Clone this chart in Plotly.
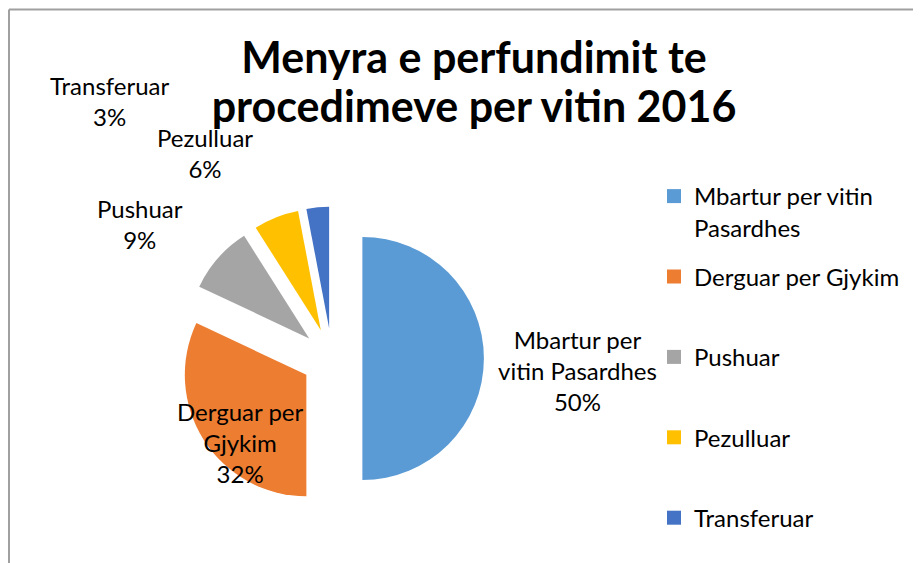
import plotly.graph_objects as go

# te dhenat
kategorite = ["Mbartur per vitin Pasardhes", "Derguar per Gjykim", "Pushuar", "Pezulluar", "Transferuar"]
perqindjet = [50, 32, 9, 6, 3]
tekst_feta = ["Mbartur per<br>vitin Pasardhes", "Derguar per<br>Gjykim", "Pushuar", "Pezulluar", "Transferuar"]
tekst_legjenda = ["Mbartur per vitin<br>Pasardhes", "Derguar per Gjykim<br>&nbsp;", "Pushuar<br>&nbsp;",
                  "Pezulluar<br>&nbsp;", "Transferuar"]
ngjyrat = ["#5B9BD5", "#ED7D31", "#A5A5A5", "#FFC000", "#4472C4"]

# vendet e etiketave si ne Excel (qendra e bllokut te tekstit, ne piksel te faqes)
vend_etiketash = {0: (577, 370), 1: (240, 442), 2: (140, 224), 3: (205, 153), 4: (110, 101)}

FONT = "Lato"
W, H = 921, 563
OFF = 8  # faqja html ka 8px margin ne body


def fx(px):
    return (px - OFF) / W


def fy(py):
    return 1 - (py - OFF) / H


fig = go.Figure()

# qendra e pites (pa shtyrje) rreth (332, 358.5), rrezja ~121.5, shtyrja 0.25
fig.add_trace(go.Pie(
    labels=kategorite,
    values=perqindjet,
    text=tekst_feta,
    textinfo="none",
    sort=False,
    direction="clockwise",
    rotation=0,
    pull=0.25,
    marker=dict(colors=ngjyrat, line=dict(width=0)),
    domain=dict(x=[fx(180.1), fx(483.9)], y=[fy(510.4), fy(206.6)]),
    showlegend=False,
    hovertemplate="%{label}<br>%{value}%<extra></extra>",
))

# legjenda me gjurme ndihmese qe hapesira te jete e barabarte
for i in range(len(kategorite)):
    fig.add_trace(go.Scatter(
        x=[None], y=[None],
        mode="markers",
        name=tekst_legjenda[i],
        legendgroup=str(i),
        marker=dict(symbol="square", size=14, color=ngjyrat[i]),
        showlegend=True,
    ))

shenime = []
for i, (px, py) in vend_etiketash.items():
    shenime.append(dict(
        text=tekst_feta[i] + "<br>" + str(perqindjet[i]) + "%",
        x=fx(px), y=fy(py), xref="paper", yref="paper",
        xanchor="center", yanchor="middle", showarrow=False,
        font=dict(family=FONT, size=24, color="black"),
    ))

titulli = ("<span style='font-size:43px'>Menyra e perfundimit te</span><br>"
           "<span style='font-size:43px'>procedimeve per vitin 2016</span>")

fig.update_layout(
    width=W,
    height=H,
    margin=dict(l=0, r=0, t=0, b=0, autoexpand=False),
    paper_bgcolor="white",
    plot_bgcolor="white",
    title=dict(
        text=titulli,
        x=fx(474), xanchor="center",
        y=fy(73), yanchor="top",
        font=dict(family=FONT, size=38, color="black", weight="bold"),
    ),
    xaxis=dict(visible=False),
    yaxis=dict(visible=False),
    legend=dict(
        x=fx(654), xanchor="left",
        y=fy(174), yanchor="top",
        valign="top",
        tracegroupgap=15,
        font=dict(family=FONT, size=24, color="black"),
        bgcolor="rgba(0,0,0,0)",
    ),
    annotations=shenime,
    shapes=[
        dict(type="line", xref="paper", yref="paper", x0=fx(9), x1=1, y0=fy(9.5), y1=fy(9.5),
             line=dict(color="#A0A0A0", width=2)),
        dict(type="line", xref="paper", yref="paper", x0=fx(9), x1=fx(9), y0=0, y1=fy(9.5),
             line=dict(color="#A0A0A0", width=2)),
    ],
)

fig.write_html("out.html")
